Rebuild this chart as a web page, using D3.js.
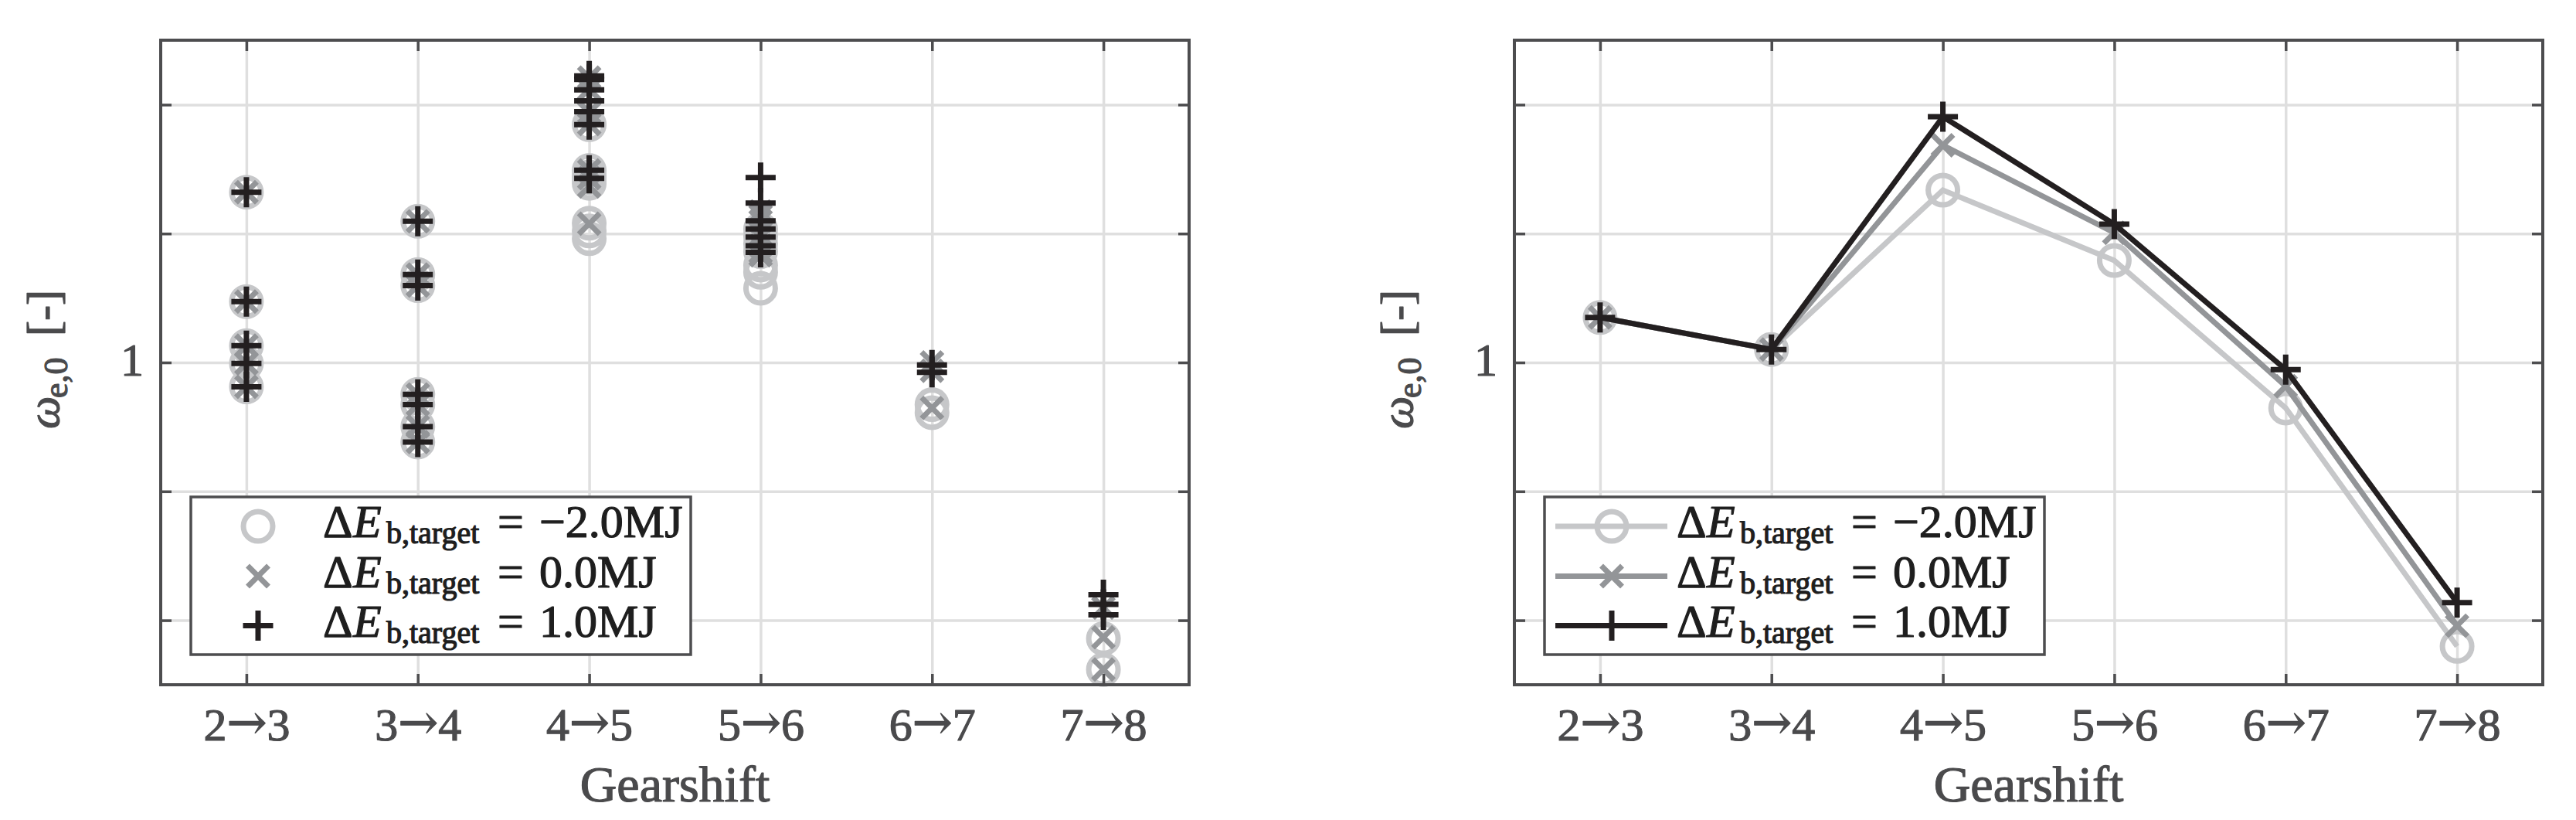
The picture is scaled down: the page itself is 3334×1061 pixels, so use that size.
<!DOCTYPE html>
<html>
<head>
<meta charset="utf-8">
<script src="https://cdn.jsdelivr.net/npm/d3@7"></script>
<style>
  body { margin: 0; background: #fff; }
  svg { display: block; }
  text { font-family: "Liberation Serif", "Times New Roman", serif; paint-order: stroke; }
</style>
</head>
<body>
<svg id="chart" width="3334" height="1061"></svg>
<script>
// ---------------- DATA ----------------
const categories = ["2\u21923", "3\u21924", "4\u21925", "5\u21926", "6\u21927", "7\u21928"];
const seriesNames = ["\u22122.0MJ", "0.0MJ", "1.0MJ"];
const yTicks = [0.8, 0.9, 1.0, 1.1, 1.2];
const yTickLabels = ["", "", "1", "", ""];
const xLabel = "Gearshift";

// Left panel: individual values per gearshift
const scatterMinus2 = [
  [1.1321, 1.0472, 1.0130, 0.9992, 0.9811],
  [1.1095, 1.0682, 1.0596, 0.9752, 0.9673, 0.9503, 0.9383],
  [1.1845, 1.1490, 1.1440, 1.1435, 1.1390, 1.1080, 1.1020, 1.0960],
  [1.1035, 1.0980, 1.0920, 1.0860, 1.0756, 1.0700, 1.0576],
  [0.9673, 0.9611],
  [0.7858, 0.7618]
];
const scatterZero = [
  [1.1321, 1.0472, 1.0130, 0.9992, 0.9811],
  [1.1095, 1.0682, 1.0596, 0.9752, 0.9673, 0.9503, 0.9383],
  [1.2210, 1.2120, 1.1940, 1.1850, 1.1490, 1.1430, 1.1365, 1.1076],
  [1.1170, 1.1140, 1.1098, 1.0972, 1.0906, 1.0854, 1.0832],
  [1.0000, 0.9935, 0.9647],
  [0.8098, 0.7868, 0.7618]
];
const scatterPlus1 = [
  [1.1321, 1.0472, 1.0130, 0.9992, 0.9811],
  [1.1095, 1.0682, 1.0596, 0.9752, 0.9673, 0.9503, 0.9383],
  [1.2222, 1.2196, 1.2115, 1.2029, 1.1945, 1.1845, 1.1491, 1.1429],
  [1.1434, 1.1236, 1.1098, 1.1035, 1.0972, 1.0906, 1.0854],
  [0.9980, 0.9923],
  [0.8198, 0.8124, 0.8042]
];

// Right panel: aggregated values per gearshift
const lineMinus2 = [1.0349, 1.0101, 1.1337, 1.0791, 0.9647, 0.7798];
const lineZero   = [1.0349, 1.0101, 1.1685, 1.1006, 0.9816, 0.7958];
const linePlus1  = [1.0349, 1.0101, 1.1906, 1.1073, 0.9945, 0.8137];

// ---------------- STYLE ----------------
const W = 3334, H = 1061;
const yTop = 52, yBot = 886;
const panels = [{ x0: 208, x1: 1539 }, { x0: 1960, x1: 3291 }];
const colLight = "#c6c7c9", colMid = "#939598", colDark = "#231f20";
const axisCol = "#4d4d4f", gridCol = "#dfdfdf", textCol = "#4a4a4c", legTextCol = "#1e1e1e";
const series = [
  { name: seriesNames[0], type: "o", color: colLight, scatter: scatterMinus2, line: lineMinus2 },
  { name: seriesNames[1], type: "x", color: colMid,   scatter: scatterZero,   line: lineZero },
  { name: seriesNames[2], type: "+", color: colDark,  scatter: scatterPlus1,  line: linePlus1 }
];

const svg = d3.select("#chart");
svg.append("rect").attr("width", W).attr("height", H).attr("fill", "#fff");

function drawMarker(g, type, color) {
  if (type === "o") {
    g.append("circle").attr("r", 19).attr("fill", "none")
      .attr("stroke", color).attr("stroke-width", 7);
  } else if (type === "x") {
    const h = 13.5;
    g.append("path").attr("d", `M${-h},${-h}L${h},${h}M${-h},${h}L${h},${-h}`)
      .attr("fill", "none").attr("stroke", color).attr("stroke-width", 7);
  } else {
    const h = 19.5;
    g.append("path").attr("d", `M${-h},0H${h}M0,${-h}V${h}`)
      .attr("fill", "none").attr("stroke", color).attr("stroke-width", 7);
  }
}

function thicken(sel, color, w) {
  sel.attr("stroke", color).attr("stroke-width", w).attr("stroke-linejoin", "round");
}

function drawPanel(p, kind) {
  const x = d3.scaleLinear().domain([0.5, 6.5]).range([p.x0, p.x1]);
  const y = d3.scaleLinear().domain([0.75, 1.25]).range([yBot, yTop]);
  const xt = d3.range(1, categories.length + 1);
  const g = svg.append("g");

  // grid via axes
  g.append("g").attr("transform", `translate(0,${yBot})`)
    .call(d3.axisBottom(x).tickValues(xt).tickSize(-(yBot - yTop)).tickFormat(""))
    .call(s => { s.select(".domain").remove(); s.selectAll("line").attr("stroke", gridCol).attr("stroke-width", 3.5); });
  g.append("g").attr("transform", `translate(${p.x0},0)`)
    .call(d3.axisLeft(y).tickValues(yTicks).tickSize(-(p.x1 - p.x0)).tickFormat(""))
    .call(s => { s.select(".domain").remove(); s.selectAll("line").attr("stroke", gridCol).attr("stroke-width", 3.5); });

  // data
  const dg = g.append("g");
  if (kind === "scatter") {
    series.forEach(s => {
      const pts = [];
      s.scatter.forEach((vals, i) => vals.forEach(v => pts.push({ c: i + 1, v })));
      dg.append("g").selectAll("g").data(pts).join("g")
        .attr("transform", d => `translate(${x(d.c)},${y(d.v)})`)
        .each(function () { drawMarker(d3.select(this), s.type, s.color); });
    });
  } else {
    const lineGen = d3.line().x((d, i) => x(i + 1)).y(d => y(d));
    series.forEach(s => {
      dg.append("path").datum(s.line).attr("d", lineGen)
        .attr("fill", "none").attr("stroke", s.color).attr("stroke-width", 7)
        .attr("stroke-linejoin", "miter");
      dg.append("g").selectAll("g").data(s.line).join("g")
        .attr("transform", (d, i) => `translate(${x(i + 1)},${y(d)})`)
        .each(function () { drawMarker(d3.select(this), s.type, s.color); });
    });
  }

  // axes with inward ticks
  const tickLen = 14;
  const styleAxis = s => { s.select(".domain").remove(); s.selectAll("line").attr("stroke", axisCol).attr("stroke-width", 3.5); };
  const bottom = g.append("g").attr("transform", `translate(0,${yBot})`)
    .call(d3.axisBottom(x).tickValues(xt).tickSize(-tickLen).tickFormat(d => categories[d - 1]))
    .call(styleAxis);
  bottom.selectAll("text").attr("y", 72).attr("dy", null)
    .attr("font-size", 60).attr("fill", textCol)
    .each(function (d) {
      const t = d3.select(this);
      const parts = categories[d - 1].split("\u2192");
      t.text(null);
      t.append("tspan").text(parts[0]);
      t.append("tspan").attr("font-family", "DejaVu Serif").attr("font-size", 62).attr("dy", -2).text("\u2192");
      t.append("tspan").attr("dy", 2).text(parts[1]);
    });
  thicken(bottom.selectAll("text"), textCol, 1.2);
  g.append("g").attr("transform", `translate(0,${yTop})`)
    .call(d3.axisTop(x).tickValues(xt).tickSize(-tickLen).tickFormat(""))
    .call(styleAxis);
  const left = g.append("g").attr("transform", `translate(${p.x0},0)`)
    .call(d3.axisLeft(y).tickValues(yTicks).tickSize(-tickLen).tickPadding(22)
      .tickFormat((d, i) => yTickLabels[i]))
    .call(styleAxis);
  left.selectAll("text").attr("dy", "0.27em").attr("x", -22)
    .attr("font-size", 60).attr("fill", textCol);
  thicken(left.selectAll("text"), textCol, 1.2);
  g.append("g").attr("transform", `translate(${p.x1},0)`)
    .call(d3.axisRight(y).tickValues(yTicks).tickSize(-tickLen).tickFormat(""))
    .call(styleAxis);

  // box
  g.append("rect").attr("x", p.x0).attr("y", yTop).attr("width", p.x1 - p.x0).attr("height", yBot - yTop)
    .attr("fill", "none").attr("stroke", axisCol).attr("stroke-width", 4);

  // x label
  const xl = g.append("text").attr("x", (p.x0 + p.x1) / 2).attr("y", 1037).attr("text-anchor", "middle")
    .attr("font-size", 66).attr("fill", textCol).text(xLabel);
  thicken(xl, textCol, 1.2);

  // y label (rotated)
  const yl = g.append("text").attr("transform", `translate(${p.x0 - 132},555) rotate(-90)`)
    .attr("fill", textCol).attr("font-size", 60);
  yl.append("tspan").attr("x", 0).attr("font-style", "italic").text("\u03C9");
  yl.append("tspan").attr("x", 40).attr("dy", 11).attr("font-size", 44).text("e,0");
  yl.append("tspan").attr("x", 120).attr("dy", -11).text("[-]");
  thicken(yl, textCol, 1.2);

  // legend
  const lx = p.x0 + 39;
  const lw = 647, ly = 643, lh = 204;
  const lg = g.append("g");
  lg.append("rect").attr("x", lx).attr("y", ly).attr("width", lw).attr("height", lh)
    .attr("fill", "#fff").attr("stroke", axisCol).attr("stroke-width", 3.5);
  const rows = [681, 745.5, 809.5];
  const textX = lx + 171;
  series.forEach((s, i) => {
    const ry = rows[i];
    if (kind !== "scatter") {
      lg.append("line").attr("x1", lx + 14).attr("x2", lx + 159).attr("y1", ry).attr("y2", ry)
        .attr("stroke", s.color).attr("stroke-width", 7);
    }
    const m = lg.append("g").attr("transform", `translate(${lx + 87},${ry})`);
    drawMarker(m, s.type, s.color);
    const t = lg.append("text").attr("y", ry + 14).attr("font-size", 60).attr("fill", legTextCol);
    t.append("tspan").attr("x", textX).text("\u0394");
    t.append("tspan").attr("x", textX + 39).attr("font-style", "italic").text("E");
    t.append("tspan").attr("x", textX + 82).attr("dy", 8).attr("font-size", 40).text("b,target");
    t.append("tspan").attr("x", textX + 226).attr("dy", -8).text("=");
    t.append("tspan").attr("x", textX + 280).text(s.name);
    thicken(t, legTextCol, 1.2);
  });
}

drawPanel(panels[0], "scatter");
drawPanel(panels[1], "line");
</script>
</body>
</html>
